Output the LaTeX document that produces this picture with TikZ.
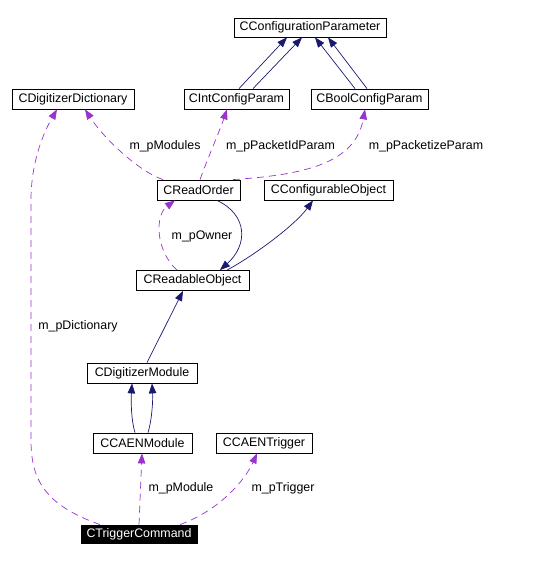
\documentclass[tikz,border=0pt]{standalone}
\usepackage{fontspec}
\setmainfont{Liberation Sans}
\usetikzlibrary{arrows.meta, calc, positioning}
\definecolor{dxNavy}{RGB}{25,25,112}
\definecolor{dxOrchid}{RGB}{154,50,205}
\tikzset{
    cls/.style={rectangle, draw, fill=white, line width=0.8bp, inner sep=0pt, minimum height=20bp, font=\fontsize{12.4bp}{14bp}\selectfont},
    clsMain/.style={cls, fill=black, text=white},
    inhEdge/.style={-{Triangle[length=10bp, width=7.5bp]}, draw=dxNavy, line width=0.7bp},
    usesEdge/.style={-{Triangle[length=10bp, width=7.5bp]}, draw=dxOrchid, line width=0.7bp, dash pattern=on 7bp off 5bp},
    memberLbl/.style={inner sep=0pt, font=\fontsize{12.4bp}{14bp}\selectfont},
}

\begin{document}
\begin{tikzpicture}[x=1bp, y=-1bp]
    \useasboundingbox (0,0) rectangle (536,561);

    % 1. classes
    \node[cls, minimum width=152bp, minimum height=19bp] (CConfigurationParameter) at (310,27.5) {CConfigurationParameter};
    \node[cls, minimum width=122bp] (CDigitizerDictionary) at (73,99) {CDigitizerDictionary};
    \node[cls, minimum width=105bp] (CIntConfigParam) at (236.5,99) {CIntConfigParam};
    \node[cls, minimum width=117bp] (CBoolConfigParam) at (369.5,99) {CBoolConfigParam};
    \node[cls, minimum width=83bp] (CReadOrder) at (198.5,190) {CReadOrder};
    \node[cls, minimum width=129bp] (CConfigurableObject) at (328.5,190) {CConfigurableObject};
    \node[cls, minimum width=113bp] (CReadableObject) at (192.5,280.5) {CReadableObject};
    \node[cls, minimum width=110bp] (CDigitizerModule) at (142,373) {CDigitizerModule};
    \node[cls, minimum width=99bp] (CCAENModule) at (142.5,443) {CCAENModule};
    \node[cls, minimum width=96bp] (CCAENTrigger) at (264,443) {CCAENTrigger};
    \node[clsMain, minimum width=116bp, minimum height=18bp] (CTriggerCommand) at (139,534) {CTriggerCommand};

    % 2. inheritance
    \draw[inhEdge] ([xshift=2.5bp]CIntConfigParam.north) -- ([xshift=-23bp]CConfigurationParameter.south);
    \draw[inhEdge] ([xshift=16.5bp]CIntConfigParam.north) -- ([xshift=-8bp]CConfigurationParameter.south);
    \draw[inhEdge] ([xshift=-14.5bp]CBoolConfigParam.north) -- ([xshift=5bp]CConfigurationParameter.south);
    \draw[inhEdge] ([xshift=-2.5bp]CBoolConfigParam.north) -- ([xshift=18bp]CConfigurationParameter.south);
    \draw[inhEdge] ([xshift=18.5bp]CReadOrder.south) .. controls (248,215) and (248,245) .. ([xshift=27.5bp]CReadableObject.north);
    \draw[inhEdge] ([xshift=34.5bp]CReadableObject.north) .. controls (255,255) and (295,225) .. ([xshift=-15.5bp]CConfigurableObject.south);
    \draw[inhEdge] ([xshift=5bp]CDigitizerModule.north) -- ([xshift=-9.5bp]CReadableObject.south);
    \draw[inhEdge] ([xshift=-7.5bp]CCAENModule.north) .. controls (131,420) and (131,400) .. ([xshift=-10bp]CDigitizerModule.south);
    \draw[inhEdge] ([xshift=5.5bp]CCAENModule.north) .. controls (152,420) and (153,400) .. ([xshift=10bp]CDigitizerModule.south);

    % 3. members
    \draw[usesEdge] ([xshift=-35.5bp]CReadOrder.north) .. controls (140,172) and (105,140) .. ([xshift=12bp]CDigitizerDictionary.south);
    \node[memberLbl] (lModules) at (165,146) {m\_pModules};
    \draw[usesEdge] ([xshift=1.5bp]CReadOrder.north) .. controls (207,160) and (220,130) .. ([xshift=-9.5bp]CIntConfigParam.south);
    \node[memberLbl] (lPacketId) at (280.5,146) {m\_pPacketIdParam};
    \draw[usesEdge] ([xshift=34.5bp]CReadOrder.north) .. controls (300,175) and (355,165) .. ([xshift=-4.5bp]CBoolConfigParam.south);
    \node[memberLbl] (lPacketize) at (426,146) {m\_pPacketizeParam};
    \draw[usesEdge] ([xshift=-15.5bp]CReadableObject.north) .. controls (155,250) and (155,215) .. ([xshift=-23.5bp]CReadOrder.south);
    \node[memberLbl] (lOwner) at (202,236) {m\_pOwner};
    \draw[usesEdge] ([xshift=-39bp]CTriggerCommand.north) .. controls (45,505) and (31,480) .. (31,440) -- (31,200) .. controls (31,160) and (45,130) .. ([xshift=-16bp]CDigitizerDictionary.south);
    \node[memberLbl] (lDictionary) at (78,326) {m\_pDictionary};
    \draw[usesEdge] (CTriggerCommand.north) -- ([xshift=-0.5bp]CCAENModule.south);
    \node[memberLbl] (lModule) at (181,488) {m\_pModule};
    \draw[usesEdge] ([xshift=41bp]CTriggerCommand.north) .. controls (220,510) and (245,480) .. ([xshift=-7bp]CCAENTrigger.south);
    \node[memberLbl] (lTrigger) at (283,488) {m\_pTrigger};

\end{tikzpicture}
\end{document}
